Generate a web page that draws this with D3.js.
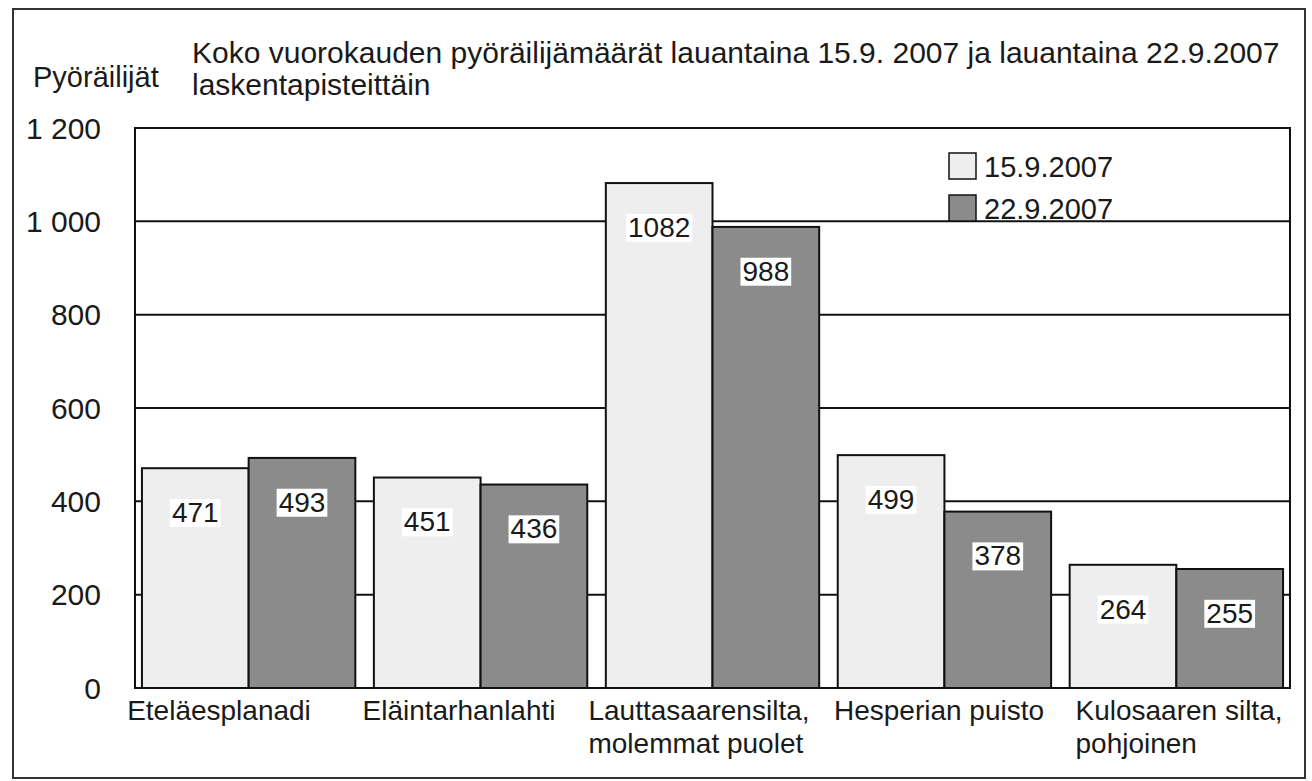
<!DOCTYPE html>
<html>
<head>
<meta charset="utf-8">
<script src="https://cdn.jsdelivr.net/npm/d3@7"></script>
<style>
  body { margin: 0; background: #fff; }
  text { font-family: "Liberation Sans", Arial, Helvetica, sans-serif; fill: #1a1a1a; }
</style>
</head>
<body>
<div class="chart"></div>
<script>
var categories = [
    ["Eteläesplanadi"],
    ["Eläintarhanlahti"],
    ["Lauttasaarensilta,", "molemmat puolet"],
    ["Hesperian puisto"],
    ["Kulosaaren silta,", "pohjoinen"]
];
var seriesNames = ["15.9.2007", "22.9.2007"];
var values1509 = [471, 451, 1082, 499, 264];
var values2209 = [493, 436, 988, 378, 255];
var yTicks = [0, 200, 400, 600, 800, 1000, 1200];

var colors = ["#eeeeee", "#8b8b8b"];
var W = 1312, H = 781;

var svg = d3.select('.chart')
    .append('svg')
    .attr('width', W)
    .attr('height', H);

// outer frame
svg.append('rect')
    .attr('x', 13).attr('y', 9)
    .attr('width', 1292).attr('height', 769)
    .attr('fill', 'none')
    .attr('stroke', '#333')
    .attr('stroke-width', 2);

var plot = {left: 135, right: 1290, top: 128, bottom: 688};
var keys = categories.map(function (d) { return d.join(' '); });

var x = d3.scaleBand()
    .domain(keys)
    .range([plot.left, plot.right])
    .paddingInner(0.08)
    .paddingOuter(0.03);

var xSub = d3.scaleBand()
    .domain([0, 1])
    .range([0, x.bandwidth()]);

var y = d3.scaleLinear()
    .domain([0, 1200])
    .range([plot.bottom, plot.top]);

var fmt = d3.formatLocale({decimal: ",", thousands: " ", grouping: [3], currency: ["", " €"]}).format(",");

// titles
svg.append('text')
    .attr('x', 192).attr('y', 63)
    .attr('font-size', 30)
    .text('Koko vuorokauden pyöräilijämäärät lauantaina 15.9. 2007 ja lauantaina 22.9.2007');
svg.append('text')
    .attr('x', 192).attr('y', 95)
    .attr('font-size', 30)
    .text('laskentapisteittäin');
svg.append('text')
    .attr('x', 33).attr('y', 87)
    .attr('font-size', 29)
    .text('Pyöräilijät');

// gridlines
svg.append('g')
    .selectAll('line')
    .data(yTicks)
    .enter()
    .append('line')
    .attr('x1', plot.left).attr('x2', plot.right)
    .attr('y1', function (d) { return y(d); })
    .attr('y2', function (d) { return y(d); })
    .attr('stroke', '#111')
    .attr('stroke-width', 2);

// y tick labels
svg.append('g')
    .selectAll('text')
    .data(yTicks)
    .enter()
    .append('text')
    .attr('x', 101)
    .attr('y', function (d) { return y(d); })
    .attr('dy', '0.35em')
    .attr('text-anchor', 'end')
    .attr('font-size', 30)
    .text(function (d) { return fmt(d); });

// bars
var rows = categories.map(function (c, i) {
    return {key: keys[i], vals: [values1509[i], values2209[i]]};
});

var groups = svg.append('g')
    .selectAll('g')
    .data(rows)
    .enter()
    .append('g')
    .attr('transform', function (d) { return 'translate(' + x(d.key) + ',0)'; });

groups.selectAll('rect')
    .data(function (d) { return d.vals; })
    .enter()
    .append('rect')
    .attr('x', function (d, i) { return xSub(i); })
    .attr('y', function (d) { return y(d); })
    .attr('width', xSub.bandwidth())
    .attr('height', function (d) { return y(0) - y(d); })
    .attr('fill', function (d, i) { return colors[i]; })
    .attr('stroke', '#111')
    .attr('stroke-width', 2);

// value labels with white boxes
var labels = groups.selectAll('g.val')
    .data(function (d) { return d.vals; })
    .enter()
    .append('g')
    .attr('class', 'val')
    .attr('transform', function (d, i) {
        return 'translate(' + (xSub(i) + xSub.bandwidth() / 2) + ',' + (y(d) + 44) + ')';
    });

labels.append('text')
    .attr('text-anchor', 'middle')
    .attr('dy', '0.35em')
    .attr('font-size', 28)
    .text(function (d) { return d; })
    .each(function () {
        var bb = this.getBBox();
        d3.select(this.parentNode).insert('rect', 'text')
            .attr('x', bb.x - 2).attr('y', bb.y + 2)
            .attr('width', bb.width + 4).attr('height', bb.height - 3)
            .attr('fill', '#fff');
    });

// plot border
svg.append('rect')
    .attr('x', plot.left).attr('y', plot.top)
    .attr('width', plot.right - plot.left)
    .attr('height', plot.bottom - plot.top)
    .attr('fill', 'none')
    .attr('stroke', '#111')
    .attr('stroke-width', 2);

// category labels, block centered, lines left aligned
var labelCenter = d3.scalePoint()
    .domain(keys)
    .range([219, 1179]);

svg.append('g')
    .selectAll('text')
    .data(categories)
    .enter()
    .append('text')
    .attr('font-size', 28)
    .each(function (lines, i) {
        var t = d3.select(this);
        lines.forEach(function (line, j) {
            t.append('tspan')
                .attr('x', 0)
                .attr('y', 720 + j * 33)
                .text(line);
        });
        var w = this.getBBox().width;
        t.attr('transform', 'translate(' + (labelCenter(keys[i]) - w / 2) + ',0)');
    });

// legend
var legend = svg.append('g')
    .selectAll('g')
    .data(seriesNames)
    .enter()
    .append('g')
    .attr('transform', function (d, i) { return 'translate(949,' + (153 + i * 42) + ')'; });

legend.append('rect')
    .attr('width', 27).attr('height', 26)
    .attr('fill', function (d, i) { return colors[i]; })
    .attr('stroke', '#111')
    .attr('stroke-width', 1.5);

legend.append('text')
    .attr('x', 35).attr('y', 24)
    .attr('font-size', 29)
    .text(function (d) { return d; });
</script>
</body>
</html>
